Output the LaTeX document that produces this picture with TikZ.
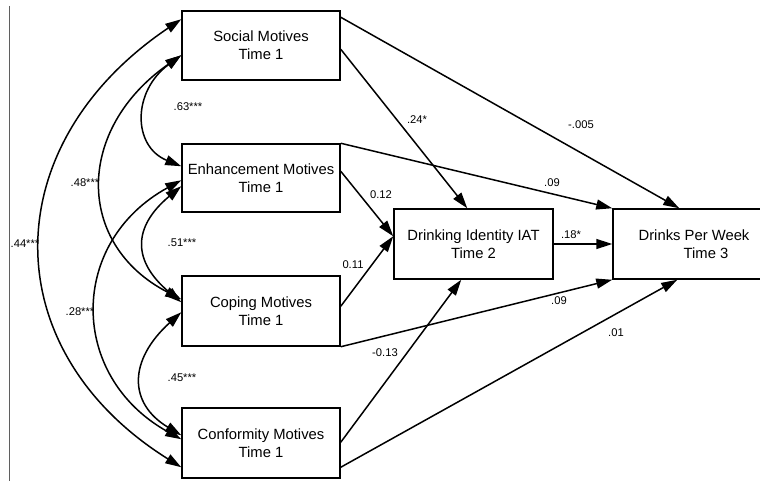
\documentclass[tikz,border=0pt]{standalone}
\usepackage{fontspec}
\setmainfont{Liberation Sans}
\usetikzlibrary{arrows.meta,calc}
\definecolor{rulegray}{RGB}{95,95,95}
\begin{document}
\begin{tikzpicture}[x=1pt,y=-1pt,
  box/.style={draw, line width=1.5pt, minimum width=158pt, minimum height=69pt,
    inner sep=0pt, align=center, font=\fontsize{14.8}{18}\selectfont},
  lab/.style={font=\fontsize{11.2}{13}\selectfont, inner sep=0pt},
  pth/.style={line width=1.5pt, -{Triangle[length=16pt,width=10pt]}},
  cov/.style={line width=1.5pt, {Triangle[length=16pt,width=10pt]}-{Triangle[length=16pt,width=10pt]}},
]
\useasboundingbox (0,0) rectangle (760,481);
\clip (0,0) rectangle (760,481);

\draw[rulegray, line width=1.6pt] (9.5,6) -- (9.5,481);

% boxes
\node[box] (soc) at (261,45.5) {Social Motives\\Time 1};
\node[box, minimum height=68pt] (enh) at (261,178) {Enhancement Motives\\Time 1};
\node[box, minimum height=70pt] (cop) at (261,311) {Coping Motives\\Time 1};
\node[box, minimum height=70pt] (con) at (261,443) {Conformity Motives\\Time 1};
\node[box, minimum width=159pt, minimum height=70pt] (iat) at (473.5,244) {Drinking Identity IAT\\Time 2};
\node[box, minimum width=162pt, minimum height=70pt] (dpw) at (694,244) {Drinks Per Week\\\hspace*{24pt}Time 3};

% covariances
\draw[cov] ([yshift=-9pt]soc.north west) .. controls +(-187,126) and +(-187,-117) .. ([yshift=-60pt]con.north west);
\draw[cov] ([yshift=-45pt]soc.north west) .. controls +(-106,74) and +(-106,-55) .. ([yshift=-24pt]cop.north west);
\draw[cov] ([yshift=-45pt]soc.north west) .. controls +(-49,36) and +(-49,-20) .. ([yshift=-23pt]enh.north west);
\draw[cov] ([yshift=-37pt]enh.north west) .. controls +(-113,62) and +(-113,-63) .. ([yshift=-32pt]con.north west);
\draw[cov] ([yshift=-43pt]enh.north west) .. controls +(-49,41) and +(-49,-41) .. ([yshift=-27pt]cop.north west);
\draw[cov] ([yshift=-37pt]cop.north west) .. controls +(-53,48) and +(-53,-32) .. ([yshift=-28pt]con.north west);

% directed paths
\draw[pth] ([yshift=-7pt]soc.north east) -- ([xshift=67pt]dpw.north west);
\draw[pth] ([yshift=-39pt]soc.north east) -- ([xshift=74pt]iat.north west);
\draw[pth] (enh.north east) -- (dpw.north west);
\draw[pth] ([yshift=-28pt]enh.north east) -- ([yshift=-28pt]iat.north west);
\draw[pth] ([yshift=-31pt]cop.north east) -- ([yshift=-28pt]iat.north west);
\draw[pth] (cop.south east) -- (dpw.south west);
\draw[pth] ([yshift=-35pt]con.north east) -- ([xshift=68pt]iat.south west);
\draw[pth] ([yshift=-60pt]con.north east) -- ([xshift=65pt]dpw.south west);
\draw[pth] (iat.east) -- (dpw.west);

% labels
\node[lab] (l63) at (188,107) {.63***};
\node[lab] (l48) at (85,183) {.48***};
\node[lab] (l44) at (25,244) {.44***};
\node[lab] (l51) at (182,243) {.51***};
\node[lab] (l28) at (80,312) {.28***};
\node[lab] (l45) at (182,378) {.45***};
\node[lab] (l24) at (417,120) {.24*};
\node[lab] (l005) at (581,125) {-.005};
\node[lab] (l09a) at (552,183) {.09};
\node[lab] (l12) at (381,195) {0.12};
\node[lab] (l18) at (571,235) {.18*};
\node[lab] (l11) at (353,265) {0.11};
\node[lab] (l09b) at (559,301) {.09};
\node[lab] (l13) at (385,353) {-0.13};
\node[lab] (l01) at (616,333) {.01};
\end{tikzpicture}
\end{document}
